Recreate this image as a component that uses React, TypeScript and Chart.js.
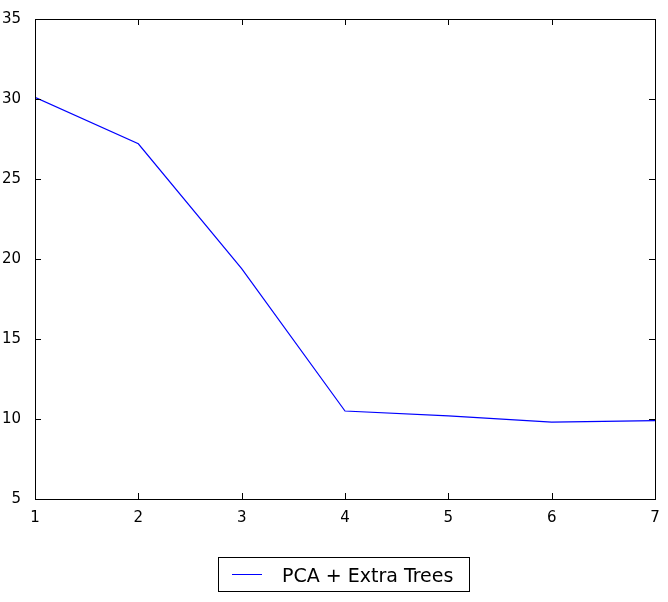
import { useEffect, useRef } from 'react';
import Chart from 'chart.js/auto';

const xValues = [1, 2, 3, 4, 5, 6, 7];
const errorValues = [30.1, 27.2, 19.4, 10.5, 10.2, 9.8, 9.9];
const seriesLabel = 'PCA + Extra Trees';

const frame = {
  id: 'frame',
  afterDraw(chart: any) {
    const { ctx, chartArea: a, scales } = chart;
    ctx.save();
    ctx.strokeStyle = '#000';
    ctx.lineWidth = 1;
    ctx.strokeRect(a.left + 0.5, a.top + 0.5, a.right - a.left, a.bottom - a.top);
    ctx.beginPath();
    scales.x.ticks.forEach((t: any) => {
      const px = Math.round(scales.x.getPixelForValue(t.value)) + 0.5;
      ctx.moveTo(px, a.bottom); ctx.lineTo(px, a.bottom - 6);
      ctx.moveTo(px, a.top); ctx.lineTo(px, a.top + 6);
    });
    scales.y.ticks.forEach((t: any) => {
      const py = Math.round(scales.y.getPixelForValue(t.value)) + 0.5;
      ctx.moveTo(a.left, py); ctx.lineTo(a.left + 6, py);
      ctx.moveTo(a.right, py); ctx.lineTo(a.right - 6, py);
    });
    ctx.stroke();
    ctx.restore();
  },
};

export default function App() {
  const ref = useRef<HTMLCanvasElement>(null);
  useEffect(() => {
    const chart = new Chart(ref.current!, {
      type: 'line',
      data: {
        datasets: [{
          label: seriesLabel,
          data: xValues.map((x, i) => ({ x, y: errorValues[i] })),
          borderColor: '#0000ff',
          borderWidth: 1.2,
          pointRadius: 0,
          tension: 0,
        }],
      },
      options: {
        responsive: false,
        animation: false,
        layout: { padding: { top: 19, right: 13, left: 0, bottom: 0 } },
        plugins: { legend: { display: false }, tooltip: { enabled: false } },
        scales: {
          x: {
            type: 'linear', min: 1, max: 7,
            grid: { display: false }, border: { display: false },
            ticks: { stepSize: 1, color: '#000', font: { family: 'DejaVu Sans', size: 15 }, padding: 2, maxRotation: 0 },
            afterFit: (s: any) => { s.height = 103; },
          },
          y: {
            min: 5, max: 35,
            grid: { display: false }, border: { display: false },
            ticks: { stepSize: 5, color: '#000', font: { family: 'DejaVu Sans', size: 15 }, padding: 6 },
            afterFit: (s: any) => { s.width = 35; },
          },
        },
      },
      plugins: [frame],
    });
    return () => chart.destroy();
  }, []);
  return (
    <div style={{ position: 'fixed', left: 0, top: 0, width: 668, height: 602, background: '#fff' }}>
      <canvas ref={ref} width={668} height={602} />
      <div style={{
        position: 'absolute', left: 218, top: 557, width: 250, height: 33,
        border: '1px solid #000', display: 'flex', alignItems: 'center',
        fontFamily: 'DejaVu Sans', fontSize: 19, boxSizing: 'content-box',
      }}>
        <span style={{ display: 'inline-block', width: 30, borderTop: '1.2px solid #0000ff', marginLeft: 13, marginRight: 20 }} />
        {seriesLabel}
      </div>
    </div>
  );
}
